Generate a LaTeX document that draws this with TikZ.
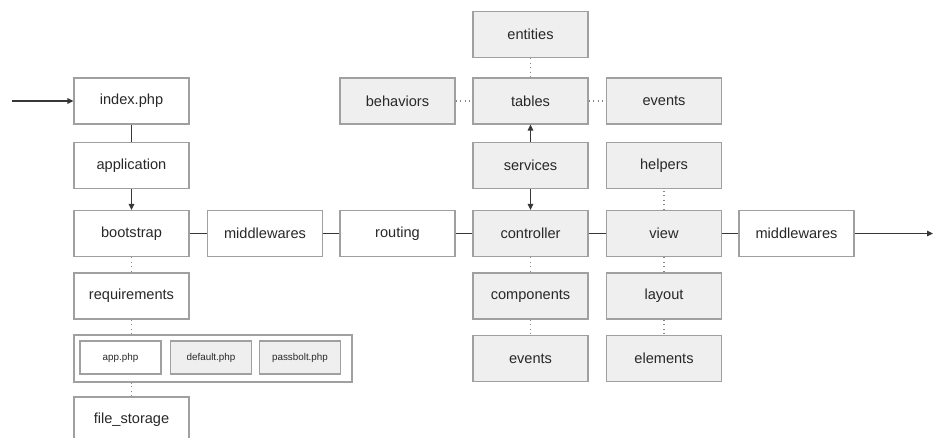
\documentclass[tikz,border=0pt]{standalone}
\usepackage{fontspec}
\setmainfont{Liberation Sans}
\usetikzlibrary{arrows.meta}
\definecolor{boxgray}{RGB}{239,239,239}
\definecolor{edgegray}{RGB}{160,160,160}
\definecolor{linedark}{RGB}{55,55,55}
\definecolor{dotgray}{RGB}{135,135,135}
\definecolor{textdark}{RGB}{40,40,40}

\begin{document}
\begin{tikzpicture}[x=0.02cm,y=-0.02cm,font=\fontsize{8.3}{10}\selectfont,text=textdark,
  stage/.style={draw=edgegray,line width=0.7pt,minimum width=2.3cm,minimum height=0.92cm,inner sep=0pt},
  cfg/.style={draw=edgegray,line width=0.6pt,minimum width=1.62cm,minimum height=0.66cm,inner sep=0pt,font=\fontsize{5.6}{7}\selectfont},
  link/.style={draw=linedark,line width=0.7pt},
  flow/.style={link,-{Triangle[length=0.12cm,width=0.11cm]}},
  dots/.style={draw=dotgray,line width=0.6pt,dotted}]
\useasboundingbox (0,0) rectangle (934,438);
\clip (0,0) rectangle (934,438);
\foreach \nm/\x/\y/\lab/\col in {index/131.5/101/index.php/white,application/131.5/165.5/application/white,
  bootstrap/131.5/233.5/bootstrap/white,mwin/265/233.5/middlewares/white,routing/397.5/233.5/routing/white,
  controller/530.5/233.5/controller/boxgray,view/664/233.5/view/boxgray,mwout/796.5/233.5/middlewares/white,
  requirements/131.5/296/requirements/white,filestorage/131.5/420/file\_storage/white,
  entities/530.5/34.5/entities/boxgray,behaviors/397.5/101/behaviors/boxgray,tables/530.5/101/tables/boxgray,
  tblevents/664/101/events/boxgray,services/530.5/165.5/services/boxgray,helpers/664/165.5/helpers/boxgray,
  components/530.5/296/components/boxgray,ctlevents/530.5/358.5/events/boxgray,
  layout/664/296/layout/boxgray,elements/664/358.5/elements/boxgray}{
\node[stage,fill=\col] (\nm) at (\x,\y) {\lab};}
\node[draw=edgegray,line width=0.7pt,minimum width=5.56cm,minimum height=0.94cm,inner sep=0pt] (config) at (213,358.5) {};
\foreach \nm/\x/\lab/\col in {apphp/120.5/app.php/white,defphp/211/default.php/boxgray,pbphp/300/passbolt.php/boxgray}{
\node[cfg,fill=\col] (\nm) at (\x,357.5) {\lab};}
\coordinate (entry) at (12,101);
\coordinate (exit) at (933,233.5);
\draw[flow] (entry) -- (index);
\draw[link] (index) -- (application);
\draw[flow] (application) -- (bootstrap);
\draw[link] (bootstrap) -- (mwin) -- (routing) -- (controller) -- (view) -- (mwout);
\draw[flow] (mwout) -- (exit);
\draw[flow] (services) -- (tables);
\draw[flow] (services) -- (controller);
\draw[dots] (requirements) -- (requirements |- config.north);
\draw[dots] (filestorage) -- (filestorage |- config.south);
\foreach \a/\b in {bootstrap/requirements,entities/tables,behaviors/tables,
  tables/tblevents,view/helpers,controller/components,components/ctlevents,view/layout,layout/elements}{
\draw[dots] (\a) -- (\b);}
\end{tikzpicture}
\end{document}
